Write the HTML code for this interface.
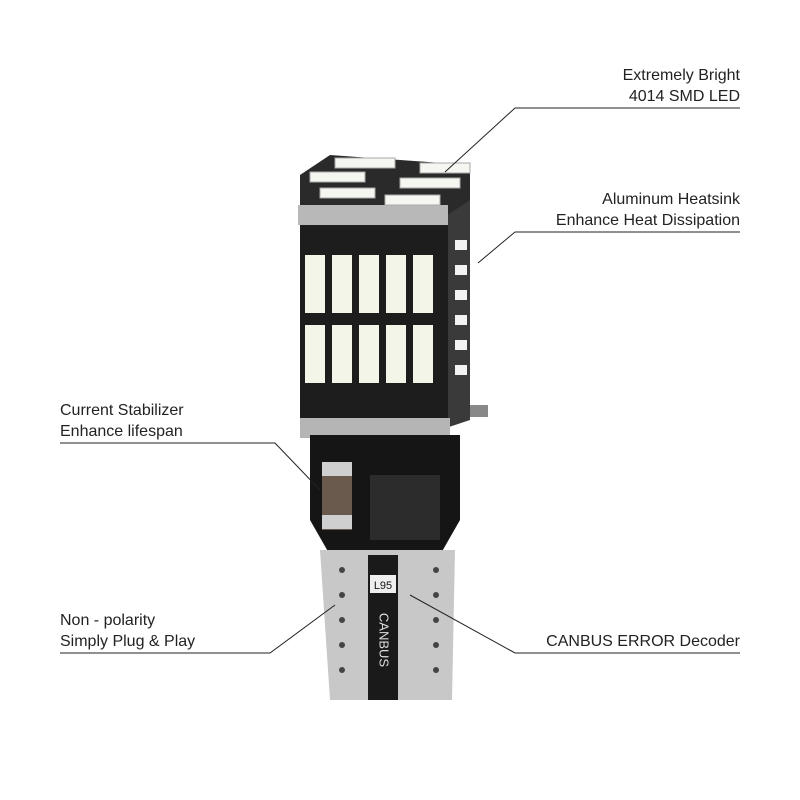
<!DOCTYPE html>
<html><head><meta charset="utf-8"><style>
html,body{margin:0;padding:0;background:#fff}
.t{position:absolute;font-family:"Liberation Sans",sans-serif;font-size:16px;color:#222;line-height:21px}
.r{text-align:right;right:60px}
.l{left:60px}
</style></head><body>
<div style="position:relative;width:800px;height:800px;overflow:hidden">
<svg width="800" height="800" style="position:absolute;left:0;top:0">
<polygon points="440,200 470,190 470,420 440,430" fill="#3a3a3a"/>
<g fill="#f2f2f2"><rect x="455" y="240" width="12" height="10"/><rect x="455" y="265" width="12" height="10"/><rect x="455" y="290" width="12" height="10"/><rect x="455" y="315" width="12" height="10"/><rect x="455" y="340" width="12" height="10"/><rect x="455" y="365" width="12" height="10"/></g>
<polygon points="300,175 330,155 470,165 470,200 440,220 300,210" fill="#2a2a2a"/>
<rect x="298" y="205" width="150" height="20" fill="#b8b8b8"/>
<g fill="#f4f7f0" stroke="#aaa" stroke-width="1">
<rect x="335" y="158" width="60" height="10"/><rect x="420" y="163" width="50" height="10"/>
<rect x="310" y="172" width="55" height="10"/><rect x="400" y="178" width="60" height="10"/>
<rect x="320" y="188" width="55" height="10"/><rect x="385" y="195" width="55" height="10"/>
</g>
<rect x="300" y="225" width="148" height="195" fill="#1d1d1d"/>
<g fill="#f3f5e8">
<rect x="305" y="255" width="20" height="58"/><rect x="332" y="255" width="20" height="58"/><rect x="359" y="255" width="20" height="58"/><rect x="386" y="255" width="20" height="58"/><rect x="413" y="255" width="20" height="58"/>
<rect x="305" y="325" width="20" height="58"/><rect x="332" y="325" width="20" height="58"/><rect x="359" y="325" width="20" height="58"/><rect x="386" y="325" width="20" height="58"/><rect x="413" y="325" width="20" height="58"/>
</g>
<rect x="300" y="418" width="150" height="20" fill="#b5b5b5"/>
<rect x="470" y="405" width="18" height="12" fill="#888"/>
<polygon points="310,435 460,435 460,520 440,555 330,555 310,520" fill="#151515"/>
<rect x="322" y="462" width="30" height="68" fill="#6a5a4e"/>
<rect x="322" y="462" width="30" height="14" fill="#cfcfcf"/>
<rect x="322" y="515" width="30" height="14" fill="#cfcfcf"/>
<rect x="370" y="475" width="70" height="65" fill="#2c2c2c"/>
<polygon points="320,550 455,550 452,700 330,700" fill="#c8c8c8"/>
<rect x="368" y="555" width="30" height="145" fill="#1a1a1a"/>
<rect x="370" y="575" width="26" height="18" fill="#eee"/>
<text x="383" y="589" fill="#111" font-family="Liberation Sans" font-size="11" text-anchor="middle">L95</text>
<text x="383" y="640" fill="#ddd" font-family="Liberation Sans" font-size="13" text-anchor="middle" dominant-baseline="middle" transform="rotate(90 383 640)">CANBUS</text>
<g fill="#444">
<circle cx="342" cy="570" r="3"/><circle cx="342" cy="595" r="3"/><circle cx="342" cy="620" r="3"/><circle cx="342" cy="645" r="3"/><circle cx="342" cy="670" r="3"/>
<circle cx="436" cy="570" r="3"/><circle cx="436" cy="595" r="3"/><circle cx="436" cy="620" r="3"/><circle cx="436" cy="645" r="3"/><circle cx="436" cy="670" r="3"/>
</g>
<g stroke="#222" stroke-width="1" fill="none">
<polyline points="740,108 515,108 445,172"/>
<polyline points="740,232 515,232 478,263"/>
<polyline points="60,443 275,443 320,490"/>
<polyline points="60,653 270,653 335,605"/>
<polyline points="740,653 515,653 410,595"/>
</g>
</svg>
<div class="t r" style="top:65px">Extremely Bright<br>4014 SMD LED</div>
<div class="t r" style="top:189px">Aluminum Heatsink<br>Enhance Heat Dissipation</div>
<div class="t l" style="top:400px">Current Stabilizer<br>Enhance lifespan</div>
<div class="t l" style="top:610px">Non - polarity<br>Simply Plug &amp; Play</div>
<div class="t r" style="top:631px">CANBUS ERROR Decoder</div>
</div>
</body></html>
